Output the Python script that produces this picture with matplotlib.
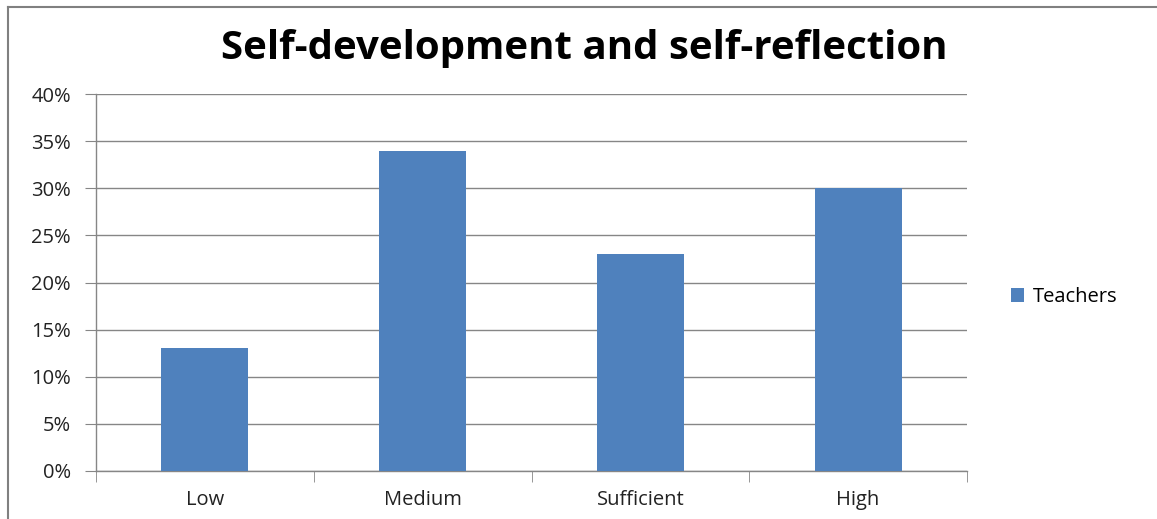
import matplotlib.pyplot as plt
from matplotlib.lines import Line2D
from matplotlib.ticker import PercentFormatter

levels = ["Low", "Medium", "Sufficient", "High"]
teachers = [13, 34, 23, 30]
y_ticks = [0, 5, 10, 15, 20, 25, 30, 35, 40]

bar_color = "#4F81BD"
grid_color = "#868686"

plt.rcParams["font.family"] = ["Open Sans", "DejaVu Sans"]

fig = plt.figure(figsize=(11.57, 5.19), dpi=100)
ax = fig.add_axes([96 / 1157, 1 - 471 / 519, 871 / 1157, 377 / 519])

x = range(len(levels))
ax.bar(x, teachers, width=0.4, color=bar_color, label="Teachers", zorder=3)

ax.set_xlim(-0.5, len(levels) - 0.5)
ax.set_ylim(0, 40)
ax.set_yticks(y_ticks)
ax.yaxis.set_major_formatter(PercentFormatter(decimals=0))
ax.grid(axis="y", color=grid_color, linewidth=1.0, zorder=0)

# category labels centred under each bar, tick marks on the boundaries
ax.set_xticks(list(x))
ax.set_xticklabels(levels)
ax.tick_params(axis="x", length=0, pad=14, labelsize=14.5, labelcolor="#222222")
ax.set_xticks([i - 0.5 for i in range(len(levels) + 1)], minor=True)
ax.tick_params(axis="x", which="minor", length=8, color=grid_color, direction="out")
ax.tick_params(axis="y", length=8, color=grid_color, labelsize=14.5,
               labelcolor="#222222", pad=10)

for side in ["top", "right"]:
    ax.spines[side].set_visible(False)
for side in ["left", "bottom"]:
    ax.spines[side].set_color(grid_color)
    ax.spines[side].set_linewidth(1.0)

fig.text(584 / 1157, 1 - 48 / 519, "Self-development and self-reflection",
         ha="center", va="center", fontsize=29, fontweight="bold")

fig.legend(loc="center left", bbox_to_anchor=(993 / 1157, 1 - 297 / 519),
           frameon=False, fontsize=14.5, handlelength=0.65, handleheight=0.65,
           handletextpad=0.45)

# chart frame along the top and left edges
fig.add_artist(Line2D([8 / 1157, 1], [1 - 7 / 519] * 2,
                      transform=fig.transFigure, color="#808080", linewidth=1.5))
fig.add_artist(Line2D([8 / 1157] * 2, [0, 1 - 7 / 519],
                      transform=fig.transFigure, color="#808080", linewidth=1.5))

fig.savefig("out.png", dpi=100)
